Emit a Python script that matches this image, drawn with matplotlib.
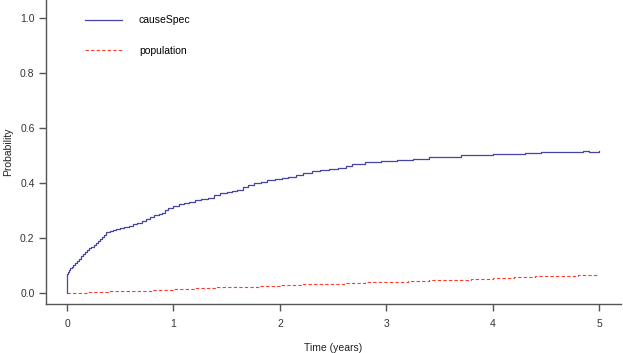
import matplotlib
matplotlib.use("Agg")
import matplotlib.pyplot as plt

plt.rcParams["font.family"] = ["Liberation Sans", "DejaVu Sans"]

# cause-specific cumulative incidence
t_cause = [0, 0.004, 0.01, 0.02, 0.03, 0.045, 0.06, 0.075, 0.09, 0.11, 0.13, 0.15, 0.17,
           0.19, 0.21, 0.23, 0.25, 0.27, 0.29, 0.31, 0.33, 0.35, 0.37, 0.4, 0.43, 0.46,
           0.5, 0.54, 0.58, 0.62, 0.66, 0.7, 0.74, 0.78, 0.82, 0.86, 0.89, 0.92, 0.95,
           1.0, 1.05, 1.1, 1.15, 1.2, 1.26, 1.32, 1.38, 1.44, 1.5, 1.55, 1.6, 1.65, 1.7,
           1.76, 1.82, 1.88, 1.95, 2.02, 2.08, 2.15, 2.22, 2.3, 2.38, 2.46, 2.55, 2.62,
           2.68, 2.8, 2.95, 3.1, 3.25, 3.4, 3.55, 3.7, 3.85, 4.0, 4.15, 4.3, 4.45, 4.6,
           4.75, 4.85, 4.9, 5.0]
p_cause = [0, 0.07, 0.078, 0.085, 0.09, 0.095, 0.102, 0.11, 0.117, 0.125, 0.135, 0.142, 0.148,
           0.155, 0.162, 0.168, 0.175, 0.18, 0.188, 0.198, 0.205, 0.212, 0.22, 0.225, 0.229, 0.232,
           0.237, 0.241, 0.245, 0.249, 0.255, 0.262, 0.268, 0.276, 0.282, 0.287, 0.292, 0.3, 0.31,
           0.318, 0.322, 0.327, 0.332, 0.337, 0.342, 0.347, 0.355, 0.362, 0.366, 0.37, 0.376, 0.384, 0.392,
           0.4, 0.405, 0.409, 0.413, 0.418, 0.423, 0.43, 0.436, 0.442, 0.446, 0.45, 0.455, 0.46,
           0.47, 0.475, 0.48, 0.485, 0.488, 0.493, 0.496, 0.5, 0.502, 0.505, 0.507, 0.509, 0.511, 0.512,
           0.513, 0.515, 0.513, 0.515]

# population (expected) curve
t_pop = [0, 0.2, 0.4, 0.6, 0.8, 1.0, 1.2, 1.4, 1.6, 1.8, 2.0, 2.2, 2.4, 2.6, 2.8, 3.0,
         3.2, 3.4, 3.6, 3.8, 4.0, 4.2, 4.4, 4.6, 4.8, 5.0]
p_pop = [0, 0.003, 0.006, 0.009, 0.012, 0.015, 0.018, 0.021, 0.023, 0.026, 0.028, 0.031,
         0.033, 0.036, 0.039, 0.041, 0.044, 0.047, 0.049, 0.052, 0.055, 0.057, 0.06, 0.062,
         0.065, 0.067]

x_ticks = [0, 1, 2, 3, 4, 5]
y_ticks = [0.0, 0.2, 0.4, 0.6, 0.8, 1.0]

fig = plt.figure(figsize=(6.23, 3.53), dpi=100)
ax = fig.add_axes([0.0734, 0.1388, 0.9226, 0.8612])

ax.plot(t_cause, p_cause, drawstyle="steps-post", color="#4545a5", lw=0.9, label="causeSpec")
ax.plot(t_pop, p_pop, drawstyle="steps-post", color="#ff3a2a", lw=0.8, ls=(0, (3, 2)),
        label="population")

ax.set_xlim(-0.2, 5.2)
ax.set_ylim(-0.04, 1.065)
ax.set_xticks(x_ticks)
ax.set_yticks(y_ticks)
ax.set_xticklabels([str(v) for v in x_ticks])
ax.set_yticklabels(["%.1f" % v for v in y_ticks])

for s in ["top", "right"]:
    ax.spines[s].set_visible(False)
for s in ["left", "bottom"]:
    ax.spines[s].set_color("#555555")
    ax.spines[s].set_linewidth(1.0)
ax.tick_params(colors="#555555", labelcolor="#333333", labelsize=7.5, length=5, width=1)
ax.tick_params(axis="x", pad=6)
ax.tick_params(axis="y", pad=3)

ax.set_xlabel("Time (years)", fontsize=7.5, labelpad=10, color="#222222")
ax.set_ylabel("Probability", fontsize=7.5, labelpad=5, color="#222222")

ax.legend(loc="upper left", bbox_to_anchor=(0.068, 0.95), frameon=False, fontsize=7.5,
          handlelength=3.6, handletextpad=1.6, labelspacing=2.0, borderpad=0, borderaxespad=0)

fig.savefig("out.png", dpi=100)
